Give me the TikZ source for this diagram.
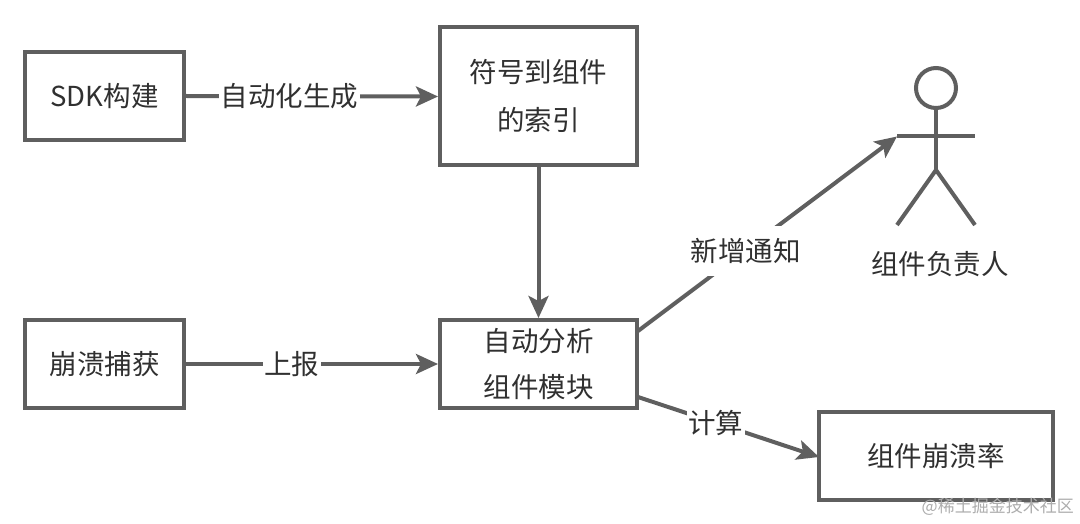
\documentclass[tikz,border=0pt]{standalone}
\usepackage{fontspec}
\setmainfont{Noto Sans CJK SC}
\usetikzlibrary{arrows.meta}
\definecolor{linegray}{HTML}{5F5F5F}
\definecolor{textgray}{HTML}{303030}
\tikzset{
  x=1pt,y=-1pt,
  boxnode/.style={draw=linegray,line width=4pt,fill=white,text=textgray,inner sep=0pt,align=center,font=\fontsize{27.5}{48}\selectfont},
  flow/.style={draw=linegray,line width=4pt,-{Stealth[length=22pt,width=20pt,inset=5pt]},shorten >=0pt},
  edgelabel/.style={fill=white,text=textgray,inner sep=1.5pt,font=\fontsize{27.5}{32}\selectfont},
  actorline/.style={draw=linegray,line width=4pt},
  plain/.style={text=textgray,inner sep=0pt,font=\fontsize{27.5}{32}\selectfont},
  mark text/.style={text=black!32,inner sep=0pt,font=\fontsize{17}{20}\selectfont}
}
\begin{document}
\begin{tikzpicture}
\useasboundingbox (0,0) rectangle (1080,524);
\fill[white] (0,0) rectangle (1080,524);
\node[boxnode,minimum width=159pt,minimum height=88pt] (sdk) at (104.5,96) {SDK构建};
\node[boxnode,minimum width=197pt,minimum height=138pt] (index) at (538.5,96.5) {符号到组件\\的索引};
\node[boxnode,minimum width=159pt,minimum height=88pt] (crash) at (104.5,364) {崩溃捕获};
\node[boxnode,minimum width=197pt,minimum height=88pt,font=\fontsize{27.5}{46}\selectfont] (auto) at (538.5,364) {自动分析\\组件模块};
\node[boxnode,minimum width=234pt,minimum height=88pt] (rate) at (936,456) {组件崩溃率};
% actor
\node[draw=linegray,line width=4pt,circle,minimum size=40pt,inner sep=0pt] (head) at (936,88) {};
\coordinate (hip) at (936,170);
\coordinate (armL) at (897,136.5);
\coordinate (armR) at (975,136.5);
\coordinate (legL) at (897,225);
\coordinate (legR) at (975,225);
\draw[actorline] (head.south) -- (hip);
\draw[actorline] (armL) -- (armR);
\draw[actorline] (legL) -- (hip) -- (legR);
\node[plain] (owner) at (940,264) {组件负责人};
% connectors
\coordinate (autoNE) at (638,331);
\coordinate (autoSE) at (638,397);
\coordinate (rateW) at (819,457);
\draw[flow] (sdk.east) -- node[edgelabel,pos=0.41] (l1) {自动化生成} (index.west);
\draw[flow] (index.south) -- (auto.north);
\draw[flow] (crash.east) -- node[edgelabel,pos=0.42] (l2) {上报} (auto.west);
\draw[flow] (autoNE) -- node[edgelabel,pos=0.41,minimum height=50pt,xshift=1.5pt] (l3) {新增通知} (armL);
\draw[flow] (autoSE) -- node[edgelabel,pos=0.43] (l4) {计算} (rateW);
\node[mark text,anchor=east] (wm) at (1074,507) {@稀土掘金技术社区};
\end{tikzpicture}
\end{document}
